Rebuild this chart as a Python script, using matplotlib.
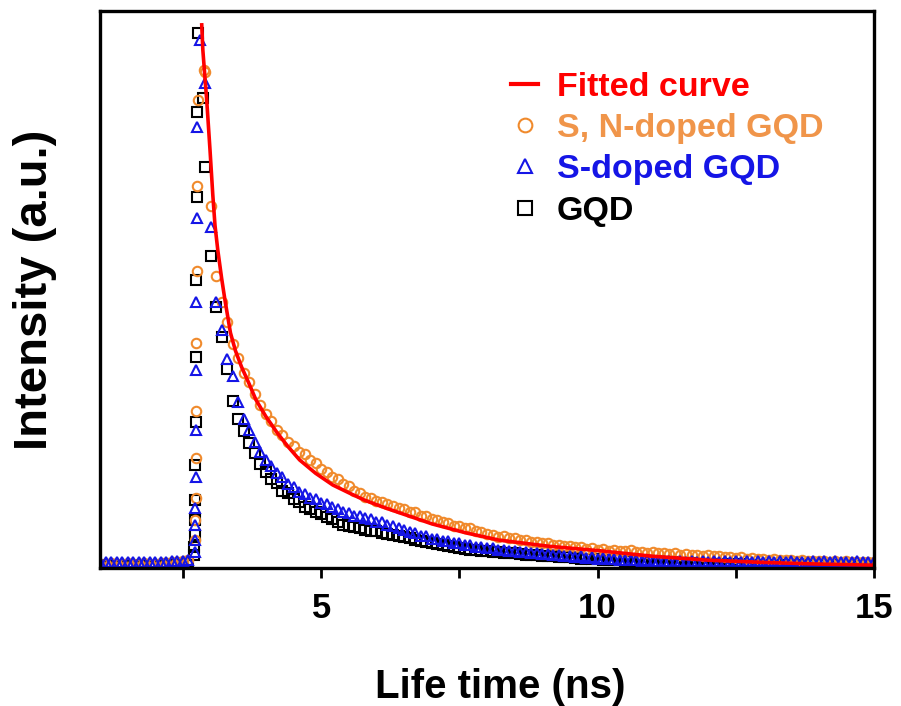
import numpy as np
import matplotlib
matplotlib.use("Agg")
import matplotlib.pyplot as plt
from matplotlib.lines import Line2D
from matplotlib.ticker import FixedLocator, FuncFormatter

plt.rcParams['font.family'] = ['Liberation Sans', 'DejaVu Sans']
plt.rcParams['font.weight'] = 'bold'

# ---- TCSPC decay data (normalised counts) ----
# flat background before the excitation pulse, 0.1 ns channels
t_base = np.round(np.arange(1.0, 2.65, 0.1), 2)
snq_base = [0.008, 0.008, 0.009, 0.008, 0.008, 0.009, 0.008, 0.008, 0.009, 0.008,
            0.008, 0.009, 0.009, 0.010, 0.010, 0.012, 0.014]
sq_base = [0.011, 0.010, 0.011, 0.011, 0.010, 0.011, 0.011, 0.010, 0.011, 0.011,
           0.010, 0.011, 0.011, 0.012, 0.012, 0.013, 0.014]
gqd_base = [0.006, 0.005, 0.006, 0.006, 0.005, 0.006, 0.006, 0.005, 0.006, 0.006,
            0.006, 0.006, 0.007, 0.007, 0.008, 0.009, 0.011]

# rising edge + peak
t_rise_snq = [2.72, 2.725, 2.73, 2.735, 2.74, 2.745, 2.75, 2.76, 2.77, 2.89]
snq_rise = [0.050, 0.086, 0.126, 0.197, 0.282, 0.404, 0.533, 0.686, 0.840, 0.894]
t_rise_sq = [2.71, 2.715, 2.72, 2.725, 2.73, 2.735, 2.74, 2.745, 2.75, 2.76, 2.81]
sq_rise = [0.029, 0.050, 0.077, 0.108, 0.163, 0.248, 0.355, 0.478, 0.628, 0.792, 0.948]
t_rise_gqd = [2.70, 2.705, 2.71, 2.715, 2.72, 2.725, 2.73, 2.735, 2.74, 2.75, 2.76, 2.77, 2.86]
gqd_rise = [0.023, 0.038, 0.059, 0.086, 0.122, 0.185, 0.262, 0.379, 0.517, 0.666, 0.819,
            0.960, 0.844]

# decay, 0.1 ns channels from 2.9 to 15.0 ns
t_decay = np.round(np.arange(2.9, 15.05, 0.1), 2)
snq_decay = [
    0.890, 0.650, 0.525, 0.478, 0.442, 0.402, 0.377, 0.350, 0.333, 0.312,
    0.292, 0.277, 0.264, 0.248, 0.238, 0.226, 0.219, 0.209, 0.204, 0.194,
    0.188, 0.178, 0.172, 0.163, 0.159, 0.151, 0.147, 0.139, 0.135, 0.128,
    0.126, 0.121, 0.119, 0.114, 0.112, 0.108, 0.106, 0.101, 0.100, 0.094,
    0.093, 0.088, 0.087, 0.082, 0.081, 0.076, 0.076, 0.072, 0.071, 0.066,
    0.065, 0.061, 0.060, 0.056, 0.057, 0.053, 0.054, 0.050, 0.050, 0.047,
    0.047, 0.044, 0.045, 0.041, 0.042, 0.039, 0.039, 0.037, 0.038, 0.034,
    0.035, 0.032, 0.034, 0.031, 0.032, 0.030, 0.031, 0.033, 0.029, 0.029,
    0.027, 0.028, 0.026, 0.027, 0.025, 0.026, 0.024, 0.025, 0.023, 0.024,
    0.022, 0.023, 0.021, 0.021, 0.020, 0.020, 0.018, 0.019, 0.017, 0.018,
    0.016, 0.017, 0.015, 0.016, 0.014, 0.015, 0.014, 0.013, 0.014, 0.012,
    0.013, 0.012, 0.013, 0.011, 0.012, 0.011, 0.012, 0.010, 0.011, 0.011,
    0.010, 0.011]
sq_decay = [
    0.870, 0.612, 0.478, 0.428, 0.376, 0.345, 0.298, 0.268, 0.247, 0.226,
    0.208, 0.193, 0.183, 0.171, 0.163, 0.151, 0.146, 0.136, 0.132, 0.125,
    0.123, 0.117, 0.115, 0.109, 0.106, 0.100, 0.099, 0.094, 0.093, 0.089,
    0.088, 0.083, 0.082, 0.077, 0.076, 0.071, 0.069, 0.064, 0.063, 0.058,
    0.057, 0.052, 0.052, 0.048, 0.048, 0.044, 0.044, 0.041, 0.041, 0.038,
    0.038, 0.035, 0.036, 0.033, 0.033, 0.031, 0.031, 0.029, 0.029, 0.027,
    0.027, 0.025, 0.025, 0.023, 0.024, 0.021, 0.022, 0.020, 0.021, 0.018,
    0.019, 0.017, 0.018, 0.016, 0.017, 0.015, 0.015, 0.014, 0.015, 0.013,
    0.014, 0.012, 0.013, 0.012, 0.013, 0.011, 0.013, 0.011, 0.012, 0.011,
    0.012, 0.010, 0.012, 0.011, 0.012, 0.010, 0.012, 0.011, 0.012, 0.010,
    0.012, 0.011, 0.012, 0.010, 0.012, 0.011, 0.012, 0.010, 0.011, 0.011,
    0.012, 0.010, 0.012, 0.011, 0.012, 0.010, 0.011, 0.011, 0.012, 0.010,
    0.011, 0.011]
gqd_decay = [
    0.720, 0.560, 0.468, 0.415, 0.357, 0.300, 0.268, 0.246, 0.224, 0.206,
    0.186, 0.173, 0.160, 0.152, 0.138, 0.135, 0.124, 0.118, 0.110, 0.106,
    0.100, 0.097, 0.091, 0.088, 0.083, 0.078, 0.076, 0.074, 0.071, 0.069,
    0.067, 0.066, 0.063, 0.061, 0.059, 0.057, 0.055, 0.053, 0.051, 0.049,
    0.047, 0.045, 0.043, 0.041, 0.039, 0.037, 0.036, 0.034, 0.033, 0.032,
    0.031, 0.030, 0.029, 0.028, 0.027, 0.026, 0.026, 0.025, 0.024, 0.023,
    0.023, 0.022, 0.021, 0.021, 0.020, 0.019, 0.019, 0.018, 0.017, 0.017,
    0.016, 0.016, 0.015, 0.015, 0.014, 0.014, 0.013, 0.013, 0.012, 0.012,
    0.011, 0.011, 0.011, 0.010, 0.010, 0.010, 0.009, 0.009, 0.009, 0.008,
    0.008, 0.008, 0.008, 0.007, 0.007, 0.007, 0.007, 0.007, 0.006, 0.006,
    0.006, 0.006, 0.006, 0.006, 0.005, 0.005, 0.005, 0.005, 0.005, 0.005,
    0.005, 0.005, 0.005, 0.005, 0.004, 0.004, 0.004, 0.004, 0.004, 0.004,
    0.004, 0.004]

# fitted decay curve
t_fit = [2.84, 2.86, 2.90, 2.93, 2.96, 2.99, 3.04, 3.08, 3.13, 3.20, 3.26, 3.36,
         3.45, 3.56, 3.70, 3.82, 4.00, 4.21, 4.40, 4.61, 4.90, 5.21, 5.50, 5.78,
         6.10, 6.42, 7.01, 7.62, 8.22, 9.12, 10.03, 11.0, 12.0, 13.0, 14.0, 15.0]
i_fit = [0.975, 0.930, 0.878, 0.840, 0.795, 0.750, 0.670, 0.615, 0.571, 0.520,
         0.481, 0.422, 0.390, 0.361, 0.330, 0.302, 0.272, 0.242, 0.218, 0.194,
         0.170, 0.149, 0.135, 0.122, 0.110, 0.099, 0.079, 0.063, 0.050, 0.039,
         0.031, 0.021, 0.014, 0.010, 0.007, 0.005]

labels = ["Fitted curve", "S, N-doped GQD", "S-doped GQD", "GQD"]
c_fit = "#FF0000"
c_snq = "#F08A2C"
c_sq = "#1515E6"
c_gqd = "#000000"

fig = plt.figure(figsize=(9.01, 7.06), dpi=100)
ax = fig.add_axes([0.111, 0.1955, 0.859, 0.789])

mk = dict(linestyle="none", markersize=6.8, markeredgewidth=1.5,
          markerfacecolor="none")


def series(t0, y0, t1, y1, t2, y2):
    return (np.concatenate([t0, t1, t2]), np.concatenate([y0, y1, y2]))


tg, yg = series(t_base, gqd_base, t_rise_gqd, gqd_rise, t_decay, gqd_decay)
to, yo = series(t_base, snq_base, t_rise_snq, snq_rise, t_decay, snq_decay)
tb, yb = series(t_base, sq_base, t_rise_sq, sq_rise, t_decay, sq_decay)

ax.plot(tg, yg, marker="s", markeredgecolor=c_gqd, **mk)
ax.plot(to, yo, marker="o", markeredgecolor=c_snq, **mk)
ax.plot(tb, yb, marker="^", markeredgecolor=c_sq, **mk)
ax.plot(t_fit, i_fit, color=c_fit, lw=2.6)

ax.set_xlim(1.0, 15.0)
ax.set_ylim(0, 1.0)
ax.set_yticks([])
ax.xaxis.set_major_locator(FixedLocator([2.5, 5, 7.5, 10, 12.5, 15]))
ax.xaxis.set_major_formatter(FuncFormatter(
    lambda v, p: f"{v:g}" if float(v).is_integer() else ""))
ax.tick_params(axis="x", direction="out", length=7, width=2, pad=10,
               labelsize=25)
for sp in ax.spines.values():
    sp.set_linewidth(2.4)

ax.set_xlabel("Life time (ns)", fontsize=29, fontweight="bold")
ax.xaxis.set_label_coords(0.517, -0.18)
ax.set_ylabel("Intensity (a.u.)", fontsize=34, fontweight="bold")
ax.yaxis.set_label_coords(-0.056, 0.5)

handles = [
    Line2D([0], [0], color=c_fit, lw=3),
    Line2D([0], [0], marker="o", color=c_snq, **mk),
    Line2D([0], [0], marker="^", color=c_sq, **mk),
    Line2D([0], [0], marker="s", color=c_gqd, **mk),
]
leg = ax.legend(handles, labels, loc="upper left", bbox_to_anchor=(0.509, 0.921),
                frameon=False, handlelength=0.8, handletextpad=0.55,
                labelspacing=0.3, borderpad=0, markerscale=1.45,
                labelcolor=[c_fit, "#F0954A", c_sq, c_gqd],
                prop=dict(weight="bold", size=24.5))

fig.savefig("out.png", dpi=100)
